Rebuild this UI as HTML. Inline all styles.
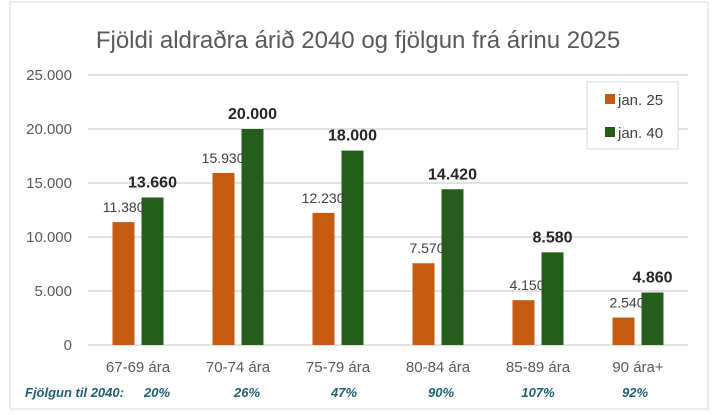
<!DOCTYPE html>
<html><head><meta charset="utf-8"><style>
body{margin:0;background:#fff;}
svg{display:block;font-family:"Liberation Sans",sans-serif;}
</style></head><body>
<svg width="713" height="415">
<rect x="10" y="2" width="698" height="407" fill="#fff" stroke="#d9d9d9"/>
<text x="358" y="48" text-anchor="middle" font-size="24" fill="#595959">Fjöldi aldraðra árið 2040 og fjölgun frá árinu 2025</text>
<g id="grid"></g><g id="bars"></g><g id="labels"></g>
<g>
<rect x="587" y="82" width="91" height="67" fill="#fff" stroke="#d9d9d9"/>
<rect x="605" y="94" width="10" height="10" fill="#c55a11"/>
<text x="618" y="105" font-size="15" fill="#404040">jan. 25</text>
<rect x="605" y="127" width="10" height="10" fill="#255e1a"/>
<text x="618" y="138" font-size="15" fill="#404040">jan. 40</text>
</g>
<text x="25" y="397" font-size="13" font-weight="bold" font-style="italic" fill="#1f5f73">Fjölgun til 2040:</text>
</svg>
<script>
const categories=["67-69 ára","70-74 ára","75-79 ára","80-84 ára","85-89 ára","90 ára+"];
const jan25=[11380,15930,12230,7570,4150,2540];
const jan40=[13660,20000,18000,14420,8580,4860];
const growth=["20%","26%","47%","90%","107%","92%"];
const yTicks=[0,5000,10000,15000,20000,25000];
const ns="http://www.w3.org/2000/svg";
const X0=88,X1=688,Y0=345,Ytop=75,YMAX=25000;
const y=v=>Y0-(v/YMAX)*(Y0-Ytop);
const cw=(X1-X0)/categories.length;
const cx=i=>X0+cw*(i+0.5);
const fmt=v=>v.toLocaleString("de-DE");
function mk(tag,attrs,parent,txt){const e=document.createElementNS(ns,tag);for(const k in attrs)e.setAttribute(k,attrs[k]);if(txt!==undefined)e.textContent=txt;parent.appendChild(e);return e;}
const grid=document.getElementById("grid"),bars=document.getElementById("bars"),labels=document.getElementById("labels");
yTicks.forEach(t=>{
 const l=mk("line",{x1:X0,x2:X1,y1:y(t),y2:y(t),stroke:"#d9d9d9","stroke-width":1.5},grid);
 
 
 const tx=mk("text",{x:72,y:y(t)+5,"text-anchor":"end","font-size":15,fill:"#595959"},grid,fmt(t));
 
 
});
const bw=22,gap=7;
categories.forEach((c,i)=>{
 const ox=cx(i)-gap/2-bw, gx=cx(i)+gap/2;
 const b1=mk("rect",{x:ox,y:y(jan25[i]),width:bw,height:Y0-y(jan25[i]),fill:"#c55a11"},bars);
 
 
 const b2=mk("rect",{x:gx,y:y(jan40[i]),width:bw,height:Y0-y(jan40[i]),fill:"#255e1a"},bars);
 
 
 const t1=mk("text",{x:gx+3,y:y(jan25[i])-10,"text-anchor":"end","font-size":14,fill:"#404040"},labels,fmt(jan25[i]));
 
 
 const t2=mk("text",{x:gx+bw/2,y:y(jan40[i])-10,"text-anchor":"middle","font-size":16,"font-weight":"bold",fill:"#262626"},labels,fmt(jan40[i]));
 
 
 const xl=mk("text",{x:cx(i),y:372,"text-anchor":"middle","font-size":15,fill:"#595959"},labels,c);
 
 
 const g=mk("text",{x:cx(i)+(i===0?19:12-i*3),y:397,"text-anchor":"middle","font-size":13,"font-weight":"bold","font-style":"italic",fill:"#1f5f73"},labels,growth[i]);
 
 
});
</script>
</body></html>
